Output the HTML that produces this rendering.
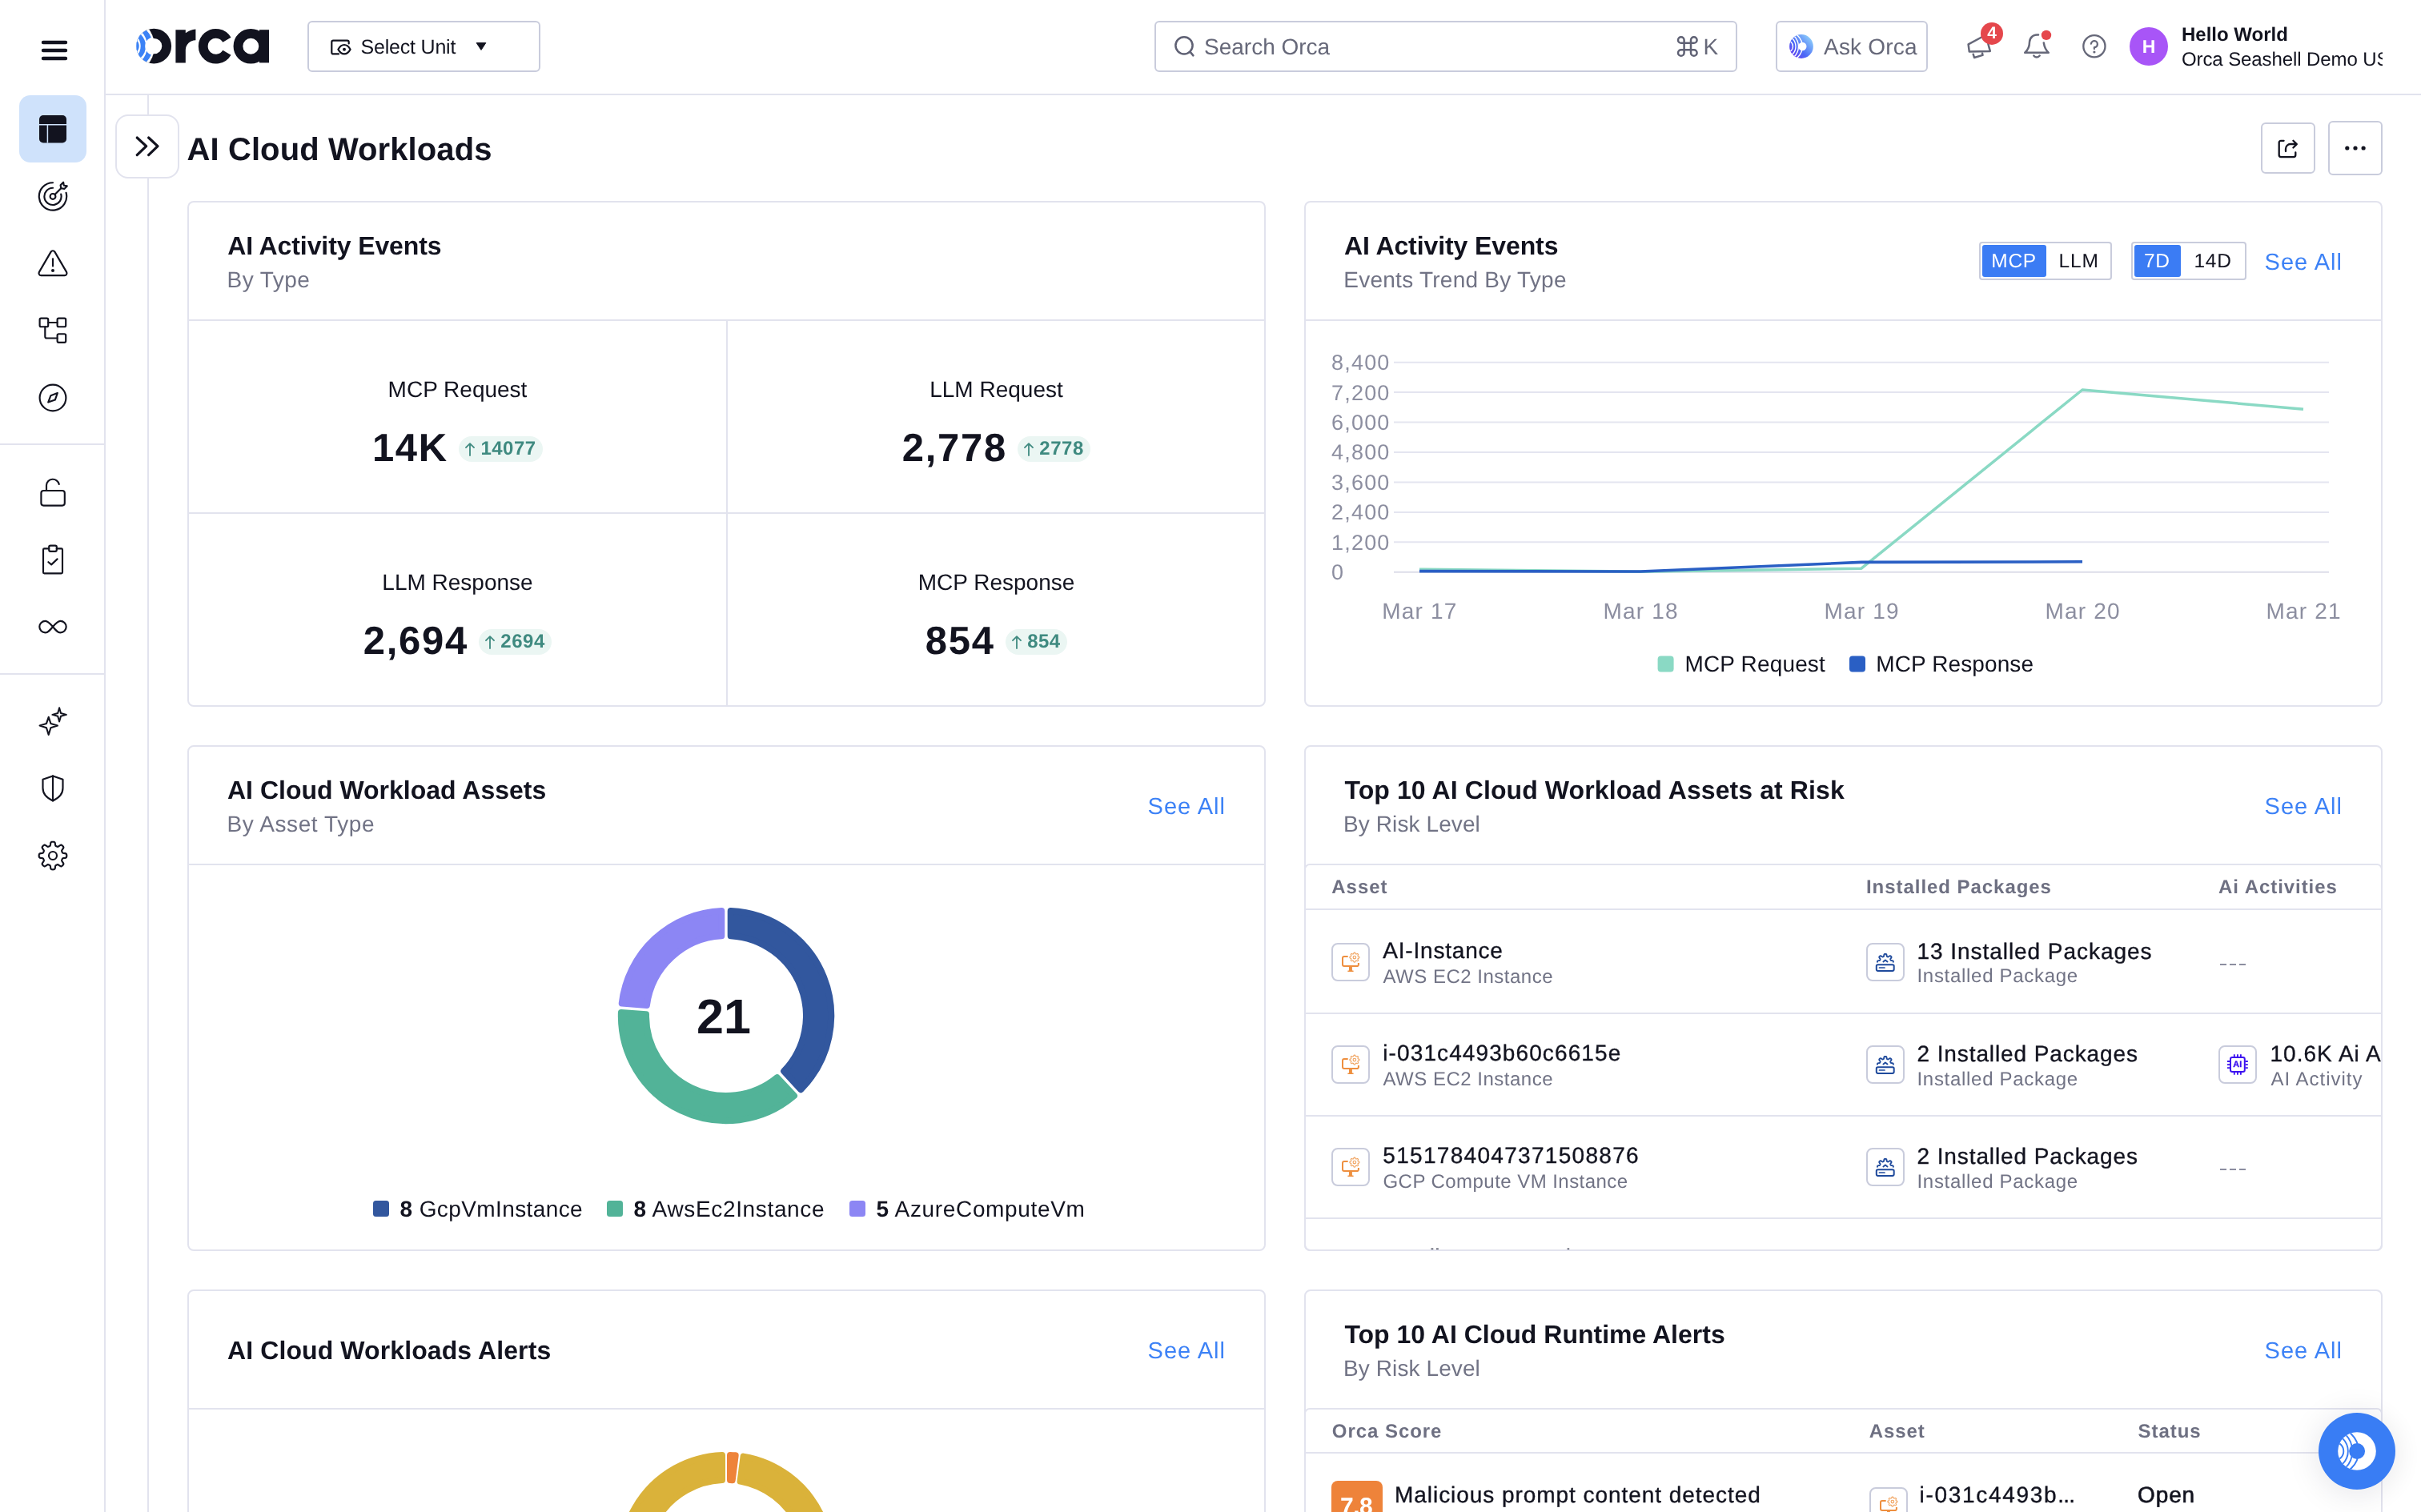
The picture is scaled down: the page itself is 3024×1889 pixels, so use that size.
<!DOCTYPE html>
<html lang="en">
<head>
<meta charset="utf-8">
<title>AI Cloud Workloads</title>
<style>
*{box-sizing:border-box;margin:0;padding:0}
html,body{width:3024px;height:1889px;overflow:hidden;background:#fff}
body{font-family:"Liberation Sans",sans-serif;color:#12131f;position:relative;-webkit-font-smoothing:antialiased;text-rendering:geometricPrecision}
#root{position:absolute;left:0;top:0;width:3024px;height:1889px;overflow:hidden;will-change:transform;opacity:0.9999}
.a{position:absolute}
.t{position:absolute;white-space:nowrap;line-height:1}
.b{font-weight:700}
.g{color:#6e7082}
.blue{color:#3b7cf4}
/* sidebar */
#side{left:0;top:0;width:132px;height:1889px;border-right:2px solid #e2e3ee;background:#fff}
.sdiv{left:0;width:130px;height:2px;background:#e2e3ee}
.ico{position:absolute;left:46px;width:40px;height:40px}
.ico svg{width:40px;height:40px;display:block}
/* header */
#hdr{left:132px;top:0;width:2892px;height:119px;border-bottom:2px solid #e2e3ee;background:#fff}
.box{position:absolute;border:2px solid #c9ccdc;border-radius:6px;background:#fff}
/* cards */
.card{position:absolute;width:1347px;height:632px;border:2px solid #e2e3ee;border-radius:8px;background:#fff;overflow:hidden}
.chd{position:absolute;left:0;top:0;right:0;height:148px;border-bottom:2px solid #e2e3ee}
.clip{position:absolute;left:0;top:0;right:0;bottom:0;overflow:hidden;border-radius:6px}
.tbl{position:absolute;left:-2px;right:-2px;top:146px;bottom:-2px;border:2px solid #e2e3ee;border-radius:7px}
.ttl{left:48px;font-size:31px;font-weight:700;letter-spacing:-0.2px}
.sub{left:48px;font-size:27px;color:#6e7082}
.see{font-size:29px;color:#3b7cf4;letter-spacing:1px}
.hl{position:absolute;height:2px;background:#e2e3ee}
.vl{position:absolute;width:2px;background:#e2e3ee}
</style>
</head>
<body>
<div id="root">
<!-- vertical guide line -->
<div class="a" style="left:184px;top:118px;width:2px;height:1780px;background:#e2e3ee"></div>

<!-- SIDEBAR -->
<div id="side" class="a">
<div class="a" style="left:24px;top:119px;width:84px;height:84px;border-radius:14px;background:#cfe2fb"></div>
<div class="a sdiv" style="top:554px"></div>
<div class="a sdiv" style="top:841px"></div>
<svg class="a" style="left:0;top:0" width="130" height="1889" viewBox="0 0 130 1889" fill="none" stroke="#12131f" stroke-width="2.15" stroke-linecap="round" stroke-linejoin="round">
<!-- hamburger -->
<g stroke-width="4.4"><path d="M54 53H82M54 63H82M54 73H82"/></g>
<!-- layout filled -->
<rect x="49" y="144" width="34" height="34.5" rx="5" fill="#12131f" stroke="none"/>
<path d="M49 155.8H83M59.4 155.8V178.5" stroke="#cfe2fb" stroke-width="1.5" stroke-linecap="butt"/>
<!-- target -->
<path d="M66 228.2A17.2 17.2 0 1 0 82.6 240.9"/>
<path d="M66 234.8A10.6 10.6 0 1 0 76.2 242.6"/>
<circle cx="66" cy="245.4" r="3.4"/>
<path d="M68.5 243L76.5 235"/>
<path d="M76.3 235.2L75.6 231.2L79.1 227.7L79.8 231.7L83.8 232.4L80.3 235.9Z"/>
<!-- warning -->
<path d="M63.6 314.6L48.9 339.9A2.8 2.8 0 0 0 51.3 344.1H80.7A2.8 2.8 0 0 0 83.1 339.9L68.4 314.6A2.8 2.8 0 0 0 63.6 314.6Z"/>
<path d="M66 323.2V332.4"/>
<circle cx="66" cy="338" r="2" fill="#12131f" stroke="none"/>
<!-- tree -->
<rect x="49.6" y="397.6" width="10.6" height="10.6" rx="1.8"/>
<rect x="71.6" y="397.6" width="10.6" height="10.6" rx="1.8"/>
<rect x="71.6" y="417.2" width="10.6" height="10.6" rx="1.8"/>
<path d="M60.2 403H71.6M56.3 408.2V420.5A2 2 0 0 0 58.3 422.5H71.6"/>
<!-- compass -->
<circle cx="66" cy="497" r="16.4"/>
<path d="M71.8 491L63.4 494.2L60.2 502.6L68.8 499.6Z"/>
<!-- lock open -->
<rect x="51.4" y="613" width="29.4" height="18.6" rx="3"/>
<path d="M58 613V606.2A8 8 0 0 1 73.8 605"/>
<!-- clipboard -->
<path d="M61.2 685.4H55.4A1.4 1.4 0 0 0 54 686.8V715A1.4 1.4 0 0 0 55.4 716.4H76.6A1.4 1.4 0 0 0 78 715V686.8A1.4 1.4 0 0 0 76.6 685.4H70.8"/>
<rect x="61.2" y="681.6" width="9.6" height="7.2" rx="1.8"/>
<path d="M60.4 702.2L64.2 705.4L71.6 698.4"/>
<!-- infinity -->
<path d="M66 783C62.4 778.6 60 775.8 56.6 775.8A7.3 7.3 0 1 0 56.6 790.4C60 790.4 62.4 787.4 66 783C69.6 778.6 72 775.8 75.4 775.8A7.3 7.3 0 1 1 75.4 790.4C72 790.4 69.6 787.4 66 783Z"/>
<!-- sparkles -->
<path d="M60.7 895.8L63.4 903.9L71.9 906.6L63.4 909.3L60.7 917.9L58 909.3L49.6 906.6L58 903.9Z" stroke-width="2.1"/>
<path d="M74.1 884.2L76 891L82.9 892.9L76 894.8L74.1 901.6L72.2 894.8L65.4 892.9L72.2 891Z" stroke-width="2"/>
<!-- shield half -->
<path d="M66 969.4L78.5 973.8V984.6C78.5 992.8 71.5 998 66 1000.4C60.5 998 53.5 992.8 53.5 984.6V973.8Z"/>
<path d="M66 969.4V1000.4"/>
<!-- gear -->
<path d="M66.0 1051.7 L66.5 1051.7 L67.1 1051.8 L67.6 1051.9 L68.1 1052.2 L68.6 1052.8 L68.9 1054.0 L69.0 1055.4 L69.3 1056.3 L69.5 1056.8 L69.9 1057.0 L70.2 1057.2 L70.6 1057.4 L71.0 1057.5 L71.3 1057.7 L71.7 1057.8 L72.1 1057.9 L72.7 1057.7 L73.5 1057.2 L74.6 1056.4 L75.6 1055.8 L76.4 1055.6 L76.9 1055.8 L77.4 1056.1 L77.8 1056.4 L78.2 1056.8 L78.6 1057.2 L78.9 1057.6 L79.2 1058.1 L79.4 1058.6 L79.2 1059.4 L78.6 1060.4 L77.8 1061.5 L77.3 1062.3 L77.1 1062.9 L77.2 1063.3 L77.3 1063.7 L77.5 1064.0 L77.6 1064.4 L77.8 1064.8 L78.0 1065.1 L78.2 1065.5 L78.7 1065.7 L79.6 1066.0 L81.0 1066.1 L82.2 1066.4 L82.8 1066.9 L83.1 1067.4 L83.2 1067.9 L83.3 1068.5 L83.3 1069.0 L83.3 1069.5 L83.2 1070.1 L83.1 1070.6 L82.8 1071.1 L82.2 1071.6 L81.0 1071.9 L79.6 1072.0 L78.7 1072.3 L78.2 1072.5 L78.0 1072.9 L77.8 1073.2 L77.6 1073.6 L77.5 1074.0 L77.3 1074.3 L77.2 1074.7 L77.1 1075.1 L77.3 1075.7 L77.8 1076.5 L78.6 1077.6 L79.2 1078.6 L79.4 1079.4 L79.2 1079.9 L78.9 1080.4 L78.6 1080.8 L78.2 1081.2 L77.8 1081.6 L77.4 1081.9 L76.9 1082.2 L76.4 1082.4 L75.6 1082.2 L74.6 1081.6 L73.5 1080.8 L72.7 1080.3 L72.1 1080.1 L71.7 1080.2 L71.3 1080.3 L71.0 1080.5 L70.6 1080.6 L70.2 1080.8 L69.9 1081.0 L69.5 1081.2 L69.3 1081.7 L69.0 1082.6 L68.9 1084.0 L68.6 1085.2 L68.1 1085.8 L67.6 1086.1 L67.1 1086.2 L66.5 1086.3 L66.0 1086.3 L65.5 1086.3 L64.9 1086.2 L64.4 1086.1 L63.9 1085.8 L63.4 1085.2 L63.1 1084.0 L63.0 1082.6 L62.7 1081.7 L62.5 1081.2 L62.1 1081.0 L61.8 1080.8 L61.4 1080.6 L61.0 1080.5 L60.7 1080.3 L60.3 1080.2 L59.9 1080.1 L59.3 1080.3 L58.5 1080.8 L57.4 1081.6 L56.4 1082.2 L55.6 1082.4 L55.1 1082.2 L54.6 1081.9 L54.2 1081.6 L53.8 1081.2 L53.4 1080.8 L53.1 1080.4 L52.8 1079.9 L52.6 1079.4 L52.8 1078.6 L53.4 1077.6 L54.2 1076.5 L54.7 1075.7 L54.9 1075.1 L54.8 1074.7 L54.7 1074.3 L54.5 1074.0 L54.4 1073.6 L54.2 1073.2 L54.0 1072.9 L53.8 1072.5 L53.3 1072.3 L52.4 1072.0 L51.0 1071.9 L49.8 1071.6 L49.2 1071.1 L48.9 1070.6 L48.8 1070.1 L48.7 1069.5 L48.7 1069.0 L48.7 1068.5 L48.8 1067.9 L48.9 1067.4 L49.2 1066.9 L49.8 1066.4 L51.0 1066.1 L52.4 1066.0 L53.3 1065.7 L53.8 1065.5 L54.0 1065.1 L54.2 1064.8 L54.4 1064.4 L54.5 1064.0 L54.7 1063.7 L54.8 1063.3 L54.9 1062.9 L54.7 1062.3 L54.2 1061.5 L53.4 1060.4 L52.8 1059.4 L52.6 1058.6 L52.8 1058.1 L53.1 1057.6 L53.4 1057.2 L53.8 1056.8 L54.2 1056.4 L54.6 1056.1 L55.1 1055.8 L55.6 1055.6 L56.4 1055.8 L57.4 1056.4 L58.5 1057.2 L59.3 1057.7 L59.9 1057.9 L60.3 1057.8 L60.7 1057.7 L61.0 1057.5 L61.4 1057.4 L61.8 1057.2 L62.1 1057.0 L62.5 1056.8 L62.7 1056.3 L63.0 1055.4 L63.1 1054.0 L63.4 1052.8 L63.9 1052.2 L64.4 1051.9 L64.9 1051.8 L65.5 1051.7Z"/>
<circle cx="66" cy="1069" r="5"/>
</svg>
</div>

<!-- HEADER -->
<div id="hdr" class="a">
<!-- logo -->
<svg class="a" style="left:28px;top:25px" width="190" height="70" viewBox="160 25 190 70">
<defs>
<clipPath id="oc"><circle cx="192.2" cy="57.6" r="21.9"/></clipPath>
<clipPath id="ob"><circle cx="157.4" cy="57.6" r="35.6"/></clipPath>
</defs>
<g clip-path="url(#oc)">
<rect x="160" y="25" width="70" height="70" fill="#12131f"/>
<g clip-path="url(#ob)">
<rect x="160" y="25" width="70" height="70" fill="#fff"/>
<circle cx="162.4" cy="57.6" r="28.6" fill="#3b82f6"/>
<circle cx="157.7" cy="57.6" r="26.2" fill="#fff"/>
<circle cx="162.3" cy="57.6" r="19.8" fill="#3b82f6"/>
<circle cx="157.7" cy="57.6" r="18" fill="#fff"/>
<circle cx="163" cy="57.6" r="10.7" fill="#3b82f6"/>
<circle cx="192.6" cy="57.6" r="11.4" fill="#fff"/>
</g>
<circle cx="192.6" cy="57.6" r="9.7" fill="#fff"/>
</g>
<path d="M219.4 37.2H231.8V41.2A25.6 25.6 0 0 1 244.4 36.4V50.2A12.4 12.4 0 0 0 231.8 62.6V78.4H219.4Z" fill="#12131f"/>
<path d="M283.4 49.8A15.9 15.9 0 1 0 283.4 65.7" fill="none" stroke="#12131f" stroke-width="11.8"/>
<circle cx="313.3" cy="57.75" r="15.85" fill="none" stroke="#12131f" stroke-width="11.8"/>
<rect x="324" y="37.2" width="12" height="41.2" fill="#12131f"/>
</svg>
<!-- select unit -->
<div class="box" style="left:252px;top:26px;width:291px;height:64px"></div>
<svg class="a" style="left:278px;top:46px" width="32" height="28" viewBox="410 46 32 28" fill="none" stroke="#12131f" stroke-width="2.2" stroke-linecap="round" stroke-linejoin="round">
<path d="M423 67.4H416.3A2 2 0 0 1 414.3 65.4V52.7A2 2 0 0 1 416.3 50.7H433.7A2 2 0 0 1 435.7 52.7V54.5"/>
<path d="M422.4 61.7C424.4 58 427 56 430 56S435.600 58 437.6 61.700C435.6 65.400 433 67.400 430 67.400S424.4 65.400 422.4 61.700Z"/>
<circle cx="430" cy="61.7" r="2" fill="#12131f" stroke="none"/>
</svg>
<div class="t" id="t_sel" style="left:318.5px;top:46.5px;font-size:25px;letter-spacing:-0.2px">Select Unit</div>
<svg class="a" style="left:462px;top:53px" width="14" height="10" viewBox="0 0 14 10"><path d="M1.200 0.600H12.800L7 9.400Z" fill="#12131f" stroke="#12131f" stroke-width="1" stroke-linejoin="round"/></svg>
<!-- search -->
<div class="box" style="left:1310px;top:26px;width:728px;height:64px"></div>
<svg class="a" style="left:1332px;top:42px" width="32" height="32" viewBox="1464 42 32 32" fill="none" stroke="#5f6174" stroke-width="2.500" stroke-linecap="round"><circle cx="1479" cy="56.8" r="10.6"/><path d="M1486.4 64.600L1490.4 69.400"/></svg>
<div class="t" id="t_search" style="left:1372px;top:45px;font-size:28px;color:#666879">Search Orca</div>
<svg class="a" style="left:1960px;top:43px" width="30" height="30" viewBox="2092 43 30 30" fill="none" stroke="#5f6174" stroke-width="2.500"><path d="M2103.600 53.800V50A3.800 3.800 0 1 0 2099.800 53.800H2115.800A3.800 3.800 0 1 0 2112 50V66A3.800 3.800 0 1 0 2115.800 62.200H2099.800A3.800 3.800 0 1 0 2103.600 66Z"/></svg>
<div class="t" id="t_k" style="left:1995.5px;top:44.5px;font-size:28px;color:#666879">K</div>
<!-- ask orca -->
<div class="box" style="left:2086px;top:26px;width:190px;height:64px"></div>
<svg class="a" style="left:2100px;top:40px" width="36" height="36" viewBox="2232 40 36 36" fill="none">
<defs><linearGradient id="ag" x1="0.050" y1="0.950" x2="0.950" y2="0.150"><stop offset="0" stop-color="#6c3af0"/><stop offset="0.420" stop-color="#4a68f6"/><stop offset="1" stop-color="#90d2fb"/></linearGradient>
<clipPath id="ac"><circle cx="2250" cy="58" r="14.900"/></clipPath></defs>
<circle cx="2250" cy="58" r="14.900" fill="url(#ag)"/>
<g clip-path="url(#ac)" stroke="#fff" stroke-width="1.400"><circle cx="2232.200" cy="58" r="7.300"/><circle cx="2229.200" cy="58" r="13.800"/><circle cx="2227.900" cy="58" r="18.500"/><circle cx="2232.900" cy="58" r="18.400"/></g>
<circle cx="2251.300" cy="58" r="5.200" fill="#fff"/>
</svg>
<div class="t" id="t_ask" style="left:2146px;top:45px;font-size:28px;letter-spacing:0.2px;color:#666879">Ask Orca</div>
<!-- megaphone -->
<svg class="a" style="left:2318px;top:24px" width="60" height="60" viewBox="2450 24 60 60" fill="none" stroke="#666879" stroke-width="2.500" stroke-linecap="round" stroke-linejoin="round">
<path d="M2476 46L2458.600 55.300L2459.800 64.600L2485.800 63.900L2483.300 54.700"/>
<path d="M2464.700 67.700L2466 72L2476.500 68.900L2476 66.400"/>
<circle cx="2488" cy="41.900" r="14" fill="#e5474c" stroke="none"/>
</svg>
<div class="t b" style="left:2349px;top:31px;width:14px;text-align:center;font-size:21px;color:#fff">4</div>
<!-- bell -->
<svg class="a" style="left:2390px;top:30px" width="50" height="50" viewBox="2522 30 50 50" fill="none" stroke="#666879" stroke-width="2.500" stroke-linecap="round" stroke-linejoin="round">
<path d="M2546 43.600A9.500 9.500 0 0 0 2535 52.500C2535 58 2533.600 62 2529.300 65.800H2558.800C2555.800 63 2553.600 59 2552.800 53.600"/>
<path d="M2540.400 69.600C2542.200 72.200 2545.800 72.200 2547.600 69.600"/>
<circle cx="2556" cy="43.900" r="6.200" fill="#e5474c" stroke="none"/>
</svg>
<!-- help -->
<svg class="a" style="left:2464px;top:38px" width="40" height="40" viewBox="2596 38 40 40" fill="none" stroke="#666879" stroke-width="2.300" stroke-linecap="round" stroke-linejoin="round">
<circle cx="2615.900" cy="57.800" r="13.600"/>
<path d="M2611.900 54.600A4 4 0 1 1 2615.900 59.200V61"/>
<circle cx="2615.900" cy="65" r="1.600" fill="#666879" stroke="none"/>
</svg>
<!-- avatar -->
<div class="a" style="left:2528px;top:34px;width:48px;height:48px;border-radius:24px;background:#a855f7"></div>
<div class="t b" style="left:2528px;top:46.500px;width:48px;text-align:center;font-size:23px;color:#fff">H</div>
<div class="t b" id="t_hello" style="left:2593px;top:31.700px;font-size:24px">Hello World</div>
<div class="t" id="t_org" style="left:2593px;top:63px;font-size:24px;width:251px;overflow:hidden;letter-spacing:-0.100px">Orca Seashell Demo US-East</div>
</div>

<!-- PAGE TITLE -->
<div id="pt">
<div class="a" style="left:144px;top:143px;width:80px;height:80px;border:2px solid #e2e3ee;border-radius:16px;background:#fff"></div>
<svg class="a" style="left:160px;top:160px" width="48" height="46" viewBox="160 160 48 46" fill="none" stroke="#12131f" stroke-width="3.200" stroke-linecap="round" stroke-linejoin="round"><path d="M171.200 172L182.700 182.700L171.200 193.600M185.600 172L197 182.700L185.600 193.600"/></svg>
<div class="t b" id="t_title" style="left:233.5px;top:166.5px;font-size:40px;letter-spacing:0.1px">AI Cloud Workloads</div>
<div class="box" style="left:2824px;top:153px;width:68px;height:64px"></div>
<svg class="a" style="left:2838px;top:166px" width="40" height="40" viewBox="2838 166 40 40" fill="none" stroke="#12131f" stroke-width="2.300" stroke-linecap="round" stroke-linejoin="round">
<path d="M2852.600 175.800H2849A2.300 2.300 0 0 0 2846.700 178.100V193.800A2.300 2.300 0 0 0 2849 196.100H2865A2.300 2.300 0 0 0 2867.300 193.800V190.400"/>
<path d="M2855 189V186A6 6 0 0 1 2861 180H2868.600M2864.400 175.800L2868.800 180.100L2864.400 184.500"/>
</svg>
<div class="box" style="left:2908px;top:151px;width:68px;height:68px"></div>
<svg class="a" style="left:2922px;top:175px" width="40" height="20" viewBox="2922 175 40 20" fill="#12131f"><circle cx="2931.800" cy="185" r="2.600"/><circle cx="2942" cy="185" r="2.600"/><circle cx="2952.100" cy="185" r="2.600"/></svg>
</div>

<!-- CARDS -->
<div class="card" id="c1" style="left:234px;top:251px">
<div class="chd"></div>
<div class="t b" id="t_c1t" style="left:48.2px;top:37.9px;font-size:32px;letter-spacing:-0.1px;">AI Activity Events</div>
<div class="t " id="t_c1s" style="left:47.5px;top:82.7px;font-size:28px;color:#717385;letter-spacing:0.45px;">By Type</div>
<div class="vl" style="left:671px;top:148px;height:482px"></div>
<div class="hl" style="left:0;top:387px;width:1344px"></div>
<div class="t " style="left:-64.5px;top:219.5px;width:800px;text-align:center;font-size:28px;"><span id="t_l1">MCP Request</span></div><div class="a" style="left:-64.5px;top:283.0px;width:800px;display:flex;justify-content:center;align-items:flex-start"><span id="t_n1" class="b" style="font-size:49px;line-height:1;white-space:nowrap;letter-spacing:1.7px">14K</span><span id="p_1" style="margin-left:13.5px;margin-top:9px;height:32px;border-radius:16px;background:#ebf6f3;padding:0 8.500px 0 8px;display:inline-flex;align-items:center;color:#3f8a80;font-weight:700;font-size:24px;letter-spacing:0.5px;line-height:1;white-space:nowrap"><svg width="12" height="17" viewBox="0 0 12 17" fill="none" stroke="#3f8a80" stroke-width="1.8" stroke-linecap="round" stroke-linejoin="round" style="margin-right:7px;flex:none"><path d="M6 16V1.200M1 6.200L6 1.200L11 6.200"/></svg><span id="t_d1">14077</span></span></div>
<div class="t " style="left:608.5px;top:219.5px;width:800px;text-align:center;font-size:28px;"><span id="t_l2">LLM Request</span></div><div class="a" style="left:608.5px;top:283.0px;width:800px;display:flex;justify-content:center;align-items:flex-start"><span id="t_n2" class="b" style="font-size:49px;line-height:1;white-space:nowrap;letter-spacing:1.7px">2,778</span><span id="p_2" style="margin-left:13.5px;margin-top:9px;height:32px;border-radius:16px;background:#ebf6f3;padding:0 8.500px 0 8px;display:inline-flex;align-items:center;color:#3f8a80;font-weight:700;font-size:24px;letter-spacing:0.5px;line-height:1;white-space:nowrap"><svg width="12" height="17" viewBox="0 0 12 17" fill="none" stroke="#3f8a80" stroke-width="1.8" stroke-linecap="round" stroke-linejoin="round" style="margin-right:7px;flex:none"><path d="M6 16V1.200M1 6.200L6 1.200L11 6.200"/></svg><span id="t_d2">2778</span></span></div>
<div class="t " style="left:-64.5px;top:460.7px;width:800px;text-align:center;font-size:28px;"><span id="t_l3">LLM Response</span></div><div class="a" style="left:-64.5px;top:524.2px;width:800px;display:flex;justify-content:center;align-items:flex-start"><span id="t_n3" class="b" style="font-size:49px;line-height:1;white-space:nowrap;letter-spacing:1.7px">2,694</span><span id="p_3" style="margin-left:13.5px;margin-top:9px;height:32px;border-radius:16px;background:#ebf6f3;padding:0 8.500px 0 8px;display:inline-flex;align-items:center;color:#3f8a80;font-weight:700;font-size:24px;letter-spacing:0.5px;line-height:1;white-space:nowrap"><svg width="12" height="17" viewBox="0 0 12 17" fill="none" stroke="#3f8a80" stroke-width="1.8" stroke-linecap="round" stroke-linejoin="round" style="margin-right:7px;flex:none"><path d="M6 16V1.200M1 6.200L6 1.200L11 6.200"/></svg><span id="t_d3">2694</span></span></div>
<div class="t " style="left:608.5px;top:460.7px;width:800px;text-align:center;font-size:28px;"><span id="t_l4">MCP Response</span></div><div class="a" style="left:608.5px;top:524.2px;width:800px;display:flex;justify-content:center;align-items:flex-start"><span id="t_n4" class="b" style="font-size:49px;line-height:1;white-space:nowrap;letter-spacing:1.7px">854</span><span id="p_4" style="margin-left:13.5px;margin-top:9px;height:32px;border-radius:16px;background:#ebf6f3;padding:0 8.500px 0 8px;display:inline-flex;align-items:center;color:#3f8a80;font-weight:700;font-size:24px;letter-spacing:0.5px;line-height:1;white-space:nowrap"><svg width="12" height="17" viewBox="0 0 12 17" fill="none" stroke="#3f8a80" stroke-width="1.8" stroke-linecap="round" stroke-linejoin="round" style="margin-right:7px;flex:none"><path d="M6 16V1.200M1 6.200L6 1.200L11 6.200"/></svg><span id="t_d4">854</span></span></div>
</div><!--c1-->
<div class="card" id="c2" style="left:1629px;top:251px">
<div class="chd"></div>
<div class="t b" id="t_c2t" style="left:48.0px;top:37.9px;font-size:32px;letter-spacing:-0.1px;">AI Activity Events</div>
<div class="t " id="t_c2s" style="left:47.3px;top:82.7px;font-size:28px;color:#717385;letter-spacing:0.25px;">Events Trend By Type</div>
<div class="box" style="left:841px;top:49px;width:166px;height:48px;border-radius:4px"></div>
<div class="a" style="left:845px;top:53px;width:80px;height:40px;border-radius:3px;background:#3b7cf4"></div>
<div class="t " id="t_mcp" style="left:856.3px;top:61.9px;font-size:24.5px;color:#fff;letter-spacing:0.7px;">MCP</div>
<div class="t " id="t_llm" style="left:940.5px;top:61.9px;font-size:24.5px;letter-spacing:0.9px;">LLM</div>
<div class="box" style="left:1031px;top:49px;width:144px;height:48px;border-radius:4px"></div>
<div class="a" style="left:1035px;top:53px;width:58px;height:40px;border-radius:3px;background:#3b7cf4"></div>
<div class="t " id="t_7d" style="left:1047.0px;top:61.9px;font-size:24.5px;color:#fff;letter-spacing:0.7px;">7D</div>
<div class="t " id="t_14d" style="left:1109.5px;top:61.9px;font-size:24.5px;letter-spacing:0.7px;">14D</div>
<div class="t " id="t_see2" style="left:1197.6px;top:61.0px;font-size:29px;color:#3d82f6;letter-spacing:1px;">See All</div>
<svg class="a" style="left:0;top:148px" width="1344" height="480" viewBox="1631 401 1344 480" fill="none"><path d="M1741 452.7H2909" stroke="#e4e5f0" stroke-width="2"/><path d="M1741 490.1H2909" stroke="#e4e5f0" stroke-width="2"/><path d="M1741 527.6H2909" stroke="#e4e5f0" stroke-width="2"/><path d="M1741 565.0H2909" stroke="#e4e5f0" stroke-width="2"/><path d="M1741 602.4H2909" stroke="#e4e5f0" stroke-width="2"/><path d="M1741 639.9H2909" stroke="#e4e5f0" stroke-width="2"/><path d="M1741 677.3H2909" stroke="#e4e5f0" stroke-width="2"/><path d="M1741 714.7H2909" stroke="#dcdde9" stroke-width="2"/><path d="M1773 711.2L2049 714.2L2325 710.2L2601 487L2877 511.2" stroke="#8ad9c4" stroke-width="3.5" stroke-linejoin="round"/><path d="M1773 713.6L2049 714L2325 702.4L2601 701.8" stroke="#2a5fc4" stroke-width="3.6" stroke-linejoin="round"/><rect x="2070.600" y="819.400" width="20" height="20" rx="4" fill="#8ad9c4"/><rect x="2310" y="819.400" width="20" height="20" rx="4" fill="#2a5fc4"/></svg>
<div class="t " id="t_y0" style="left:32.0px;top:187.1px;font-size:27px;color:#8c8ea0;letter-spacing:1.2px;">8,400</div>
<div class="t " id="t_y1" style="left:32.0px;top:224.6px;font-size:27px;color:#8c8ea0;letter-spacing:1.2px;">7,200</div>
<div class="t " id="t_y2" style="left:32.0px;top:262.0px;font-size:27px;color:#8c8ea0;letter-spacing:1.2px;">6,000</div>
<div class="t " id="t_y3" style="left:32.0px;top:299.4px;font-size:27px;color:#8c8ea0;letter-spacing:1.2px;">4,800</div>
<div class="t " id="t_y4" style="left:32.0px;top:336.9px;font-size:27px;color:#8c8ea0;letter-spacing:1.2px;">3,600</div>
<div class="t " id="t_y5" style="left:32.0px;top:374.3px;font-size:27px;color:#8c8ea0;letter-spacing:1.2px;">2,400</div>
<div class="t " id="t_y6" style="left:32.0px;top:411.7px;font-size:27px;color:#8c8ea0;letter-spacing:1.2px;">1,200</div>
<div class="t " id="t_y7" style="left:32.0px;top:449.2px;font-size:27px;color:#8c8ea0;letter-spacing:1.2px;">0</div>
<div class="t " style="left:-257.6px;top:497.3px;width:800px;text-align:center;font-size:28px;color:#8c8ea0;letter-spacing:1.2px;"><span id="t_x0">Mar 17</span></div>
<div class="t " style="left:18.6px;top:497.3px;width:800px;text-align:center;font-size:28px;color:#8c8ea0;letter-spacing:1.2px;"><span id="t_x1">Mar 18</span></div>
<div class="t " style="left:294.6px;top:497.3px;width:800px;text-align:center;font-size:28px;color:#8c8ea0;letter-spacing:1.2px;"><span id="t_x2">Mar 19</span></div>
<div class="t " style="left:570.6px;top:497.3px;width:800px;text-align:center;font-size:28px;color:#8c8ea0;letter-spacing:1.2px;"><span id="t_x3">Mar 20</span></div>
<div class="t " style="left:846.6px;top:497.3px;width:800px;text-align:center;font-size:28px;color:#8c8ea0;letter-spacing:1.2px;"><span id="t_x4">Mar 21</span></div>
<div class="t " id="t_lg1" style="left:473.5px;top:563.1px;font-size:28px;letter-spacing:0.15px;">MCP Request</div>
<div class="t " id="t_lg2" style="left:712.3px;top:563.1px;font-size:28px;letter-spacing:0.1px;">MCP Response</div>
</div><!--c2-->
<div class="card" id="c3" style="left:234px;top:931px">
<div class="chd"></div>
<div class="t b" id="t_c3t" style="left:48.0px;top:37.9px;font-size:32px;">AI Cloud Workload Assets</div>
<div class="t " id="t_c3s" style="left:47.5px;top:82.7px;font-size:28px;color:#717385;letter-spacing:0.6px;">By Asset Type</div>
<div class="t " id="t_see3" style="left:1197.6px;top:61.0px;font-size:29px;color:#3d82f6;letter-spacing:1px;">See All</div>
<svg class="a" style="left:520.9px;top:186.0999999999999px" width="300" height="300" viewBox="756.9 1119.1 300 300" stroke-width="8" stroke-linejoin="round"><path d="M912.6 1138.0A131.2 131.2 0 0 1 1000.2 1361.3L979.0 1338.4A100.0 100.0 0 0 0 912.6 1169.3Z" fill="#32579e" stroke="#32579e"/><path d="M991.9 1369.1A131.2 131.2 0 0 1 775.8 1265.0L806.9 1267.3A100.0 100.0 0 0 0 970.6 1346.2Z" fill="#52b398" stroke="#52b398"/><path d="M776.6 1253.6A131.2 131.2 0 0 1 901.2 1138.0L901.2 1169.3A100.0 100.0 0 0 0 807.8 1256.0Z" fill="#8c86f4" stroke="#8c86f4"/></svg>
<div class="t b" style="left:268.0px;top:306.9px;width:800px;text-align:center;font-size:61px;letter-spacing:0px;"><span id="t_21">21</span></div>
<div class="a" style="left:230px;top:566.5px;width:20px;height:20px;border-radius:3.500px;background:#32579e"></div>
<div class="a" style="left:521.6px;top:566.5px;width:20px;height:20px;border-radius:3.500px;background:#52b398"></div>
<div class="a" style="left:825px;top:566.5px;width:20px;height:20px;border-radius:3.500px;background:#8c86f4"></div>
<div class="t " id="t_g1" style="left:263.5px;top:563.6px;font-size:28px;letter-spacing:0.4px;"><b>8</b> GcpVmInstance</div>
<div class="t " id="t_g2" style="left:555.5px;top:563.6px;font-size:28px;letter-spacing:0.65px;"><b>8</b> AwsEc2Instance</div>
<div class="t " id="t_g3" style="left:858.5px;top:563.6px;font-size:28px;letter-spacing:0.65px;"><b>5</b> AzureComputeVm</div>
</div><!--c3-->
<div class="card" id="c4" style="left:1629px;top:931px;overflow:visible">
<div class="tbl"></div><div class="clip">
<div class="t b" id="t_c4t" style="left:48.4px;top:37.9px;font-size:32px;letter-spacing:0.1px;">Top 10 AI Cloud Workload Assets at Risk</div>
<div class="t " id="t_c4s" style="left:47.0px;top:82.7px;font-size:28px;color:#717385;letter-spacing:0.1px;">By Risk Level</div>
<div class="t " id="t_see4" style="left:1197.6px;top:61.0px;font-size:29px;color:#3d82f6;letter-spacing:1px;">See All</div>
<div class="t b" id="t_h1" style="left:32.3px;top:164.3px;font-size:24px;color:#6e7082;letter-spacing:0.95px;">Asset</div>
<div class="t b" id="t_h2" style="left:700.0px;top:164.3px;font-size:24px;color:#6e7082;letter-spacing:0.95px;">Installed Packages</div>
<div class="t b" id="t_h3" style="left:1140.0px;top:164.3px;font-size:24px;color:#6e7082;letter-spacing:0.95px;">Ai Activities</div>
<div class="hl" style="left:0;top:202.0px;width:1344px"></div>
<div class="hl" style="left:0;top:331.7px;width:1344px"></div>
<div class="hl" style="left:0;top:459.5px;width:1344px"></div>
<div class="hl" style="left:0;top:587.8px;width:1344px"></div>
<div class="a" style="left:32.0px;top:245.0px;width:48px;height:48px;border:2px solid #c9ccdc;border-radius:8px;background:#fff"></div>
<svg class="a" style="left:32.0px;top:245.0px" width="48" height="48" viewBox="0 0 48 48" fill="none" stroke="#ee8f3f" stroke-width="2" stroke-linejoin="round"><path d="M20.700 16.900H16A2 2 0 0 0 14 18.900V27.100A2 2 0 0 0 16 29.100H31.900A2 2 0 0 0 33.900 27.100V25"/><path d="M22 30H25.900V34.500H27A0.800 0.800 0 0 1 27 36.100H21A0.800 0.800 0 0 1 21 34.500H22Z" fill="#ee8f3f" stroke="none"/><path d="M28.90 12.10L29.29 12.13L29.66 12.31L29.92 12.95L30.11 13.60L30.35 13.82L30.62 13.94L30.90 14.05L31.23 14.07L31.82 13.73L32.46 13.46L32.84 13.60L33.14 13.86L33.40 14.16L33.54 14.54L33.27 15.18L32.93 15.77L32.95 16.10L33.06 16.38L33.18 16.65L33.40 16.89L34.05 17.08L34.69 17.34L34.87 17.71L34.90 18.10L34.87 18.49L34.69 18.86L34.05 19.12L33.40 19.31L33.18 19.55L33.06 19.82L32.95 20.10L32.93 20.43L33.27 21.02L33.54 21.66L33.40 22.04L33.14 22.34L32.84 22.60L32.46 22.74L31.82 22.47L31.23 22.13L30.90 22.15L30.62 22.26L30.35 22.38L30.11 22.60L29.92 23.25L29.66 23.89L29.29 24.07L28.90 24.10L28.51 24.07L28.14 23.89L27.88 23.25L27.69 22.60L27.45 22.38L27.18 22.26L26.90 22.15L26.57 22.13L25.98 22.47L25.34 22.74L24.96 22.60L24.66 22.34L24.40 22.04L24.26 21.66L24.53 21.02L24.87 20.43L24.85 20.10L24.74 19.82L24.62 19.55L24.40 19.31L23.75 19.12L23.11 18.86L22.93 18.49L22.90 18.10L22.93 17.71L23.11 17.34L23.75 17.08L24.40 16.89L24.62 16.65L24.74 16.38L24.85 16.10L24.87 15.77L24.53 15.18L24.26 14.54L24.40 14.16L24.66 13.86L24.96 13.60L25.34 13.46L25.98 13.73L26.57 14.07L26.90 14.05L27.18 13.94L27.45 13.82L27.69 13.60L27.88 12.95L28.14 12.31L28.51 12.13Z" stroke-width="1.100" stroke="#f0a05a"/><circle cx="28.900" cy="18.100" r="1.800" stroke-width="1.100" stroke="#f0a05a"/></svg>
<div class="t " id="t_r0n" style="left:96.3px;top:241.0px;font-size:28px;-webkit-text-stroke:0.35px;letter-spacing:0.8px;">AI-Instance</div>
<div class="t " id="t_r0s" style="left:96.5px;top:275.6px;font-size:24px;color:#717385;letter-spacing:0.5px;">AWS EC2 Instance</div>
<div class="a" style="left:700.0px;top:245.0px;width:48px;height:48px;border:2px solid #c9ccdc;border-radius:8px;background:#fff"></div>
<svg class="a" style="left:700.0px;top:245.0px" width="48" height="48" viewBox="0 0 48 48" fill="none" stroke="#1f4a9c" stroke-width="2" stroke-linecap="round" stroke-linejoin="round"><rect x="12.800" y="27.200" width="21.900" height="7.700" rx="1.800"/><path d="M16.500 31H23" stroke-width="1.700"/><path d="M13.95 23.80L13.97 23.41L14.04 23.02L14.23 22.65L14.69 22.34L15.56 22.14L16.44 22.01L16.91 21.83L17.14 21.60L17.28 21.36L17.39 21.10L17.49 20.84L17.57 20.57L17.57 20.25L17.36 19.79L16.83 19.08L16.35 18.32L16.25 17.77L16.38 17.38L16.60 17.05L16.86 16.76L17.15 16.50L17.48 16.28L17.87 16.15L18.42 16.25L19.18 16.73L19.89 17.26L20.35 17.47L20.67 17.47L20.94 17.39L21.20 17.29L21.46 17.18L21.70 17.04L21.93 16.81L22.11 16.34L22.24 15.46L22.44 14.59L22.75 14.13L23.12 13.94L23.51 13.87L23.90 13.85L24.29 13.87L24.68 13.94L25.05 14.13L25.36 14.59L25.56 15.46L25.69 16.34L25.87 16.81L26.10 17.04L26.34 17.18L26.60 17.29L26.86 17.39L27.13 17.47L27.45 17.47L27.91 17.26L28.62 16.73L29.38 16.25L29.93 16.15L30.32 16.28L30.65 16.50L30.94 16.76L31.20 17.05L31.42 17.38L31.55 17.77L31.45 18.32L30.97 19.08L30.44 19.79L30.23 20.25L30.23 20.57L30.31 20.84L30.41 21.10L30.52 21.36L30.66 21.60L30.89 21.83L31.36 22.01L32.24 22.14L33.11 22.34L33.57 22.65L33.76 23.02L33.83 23.41L33.85 23.80" stroke-width="1.900"/><path d="M21.400 23.500L23.900 21.500L26.500 23.500" stroke-width="1.900"/></svg>
<div class="t " id="t_r0p" style="left:763.5px;top:241.9px;font-size:28px;-webkit-text-stroke:0.35px;letter-spacing:0.95px;">13 Installed Packages</div>
<div class="t " id="t_r0q" style="left:763.5px;top:275.4px;font-size:24px;color:#717385;letter-spacing:0.7px;">Installed Package</div>
<svg class="a" style="left:1141px;top:269.8px" width="36" height="4" viewBox="0 0 36 4"><path d="M1 2H9M13 2H21M25 2H33" stroke="#8c8ea0" stroke-width="2"/></svg>
<div class="a" style="left:32.0px;top:373.2px;width:48px;height:48px;border:2px solid #c9ccdc;border-radius:8px;background:#fff"></div>
<svg class="a" style="left:32.0px;top:373.2px" width="48" height="48" viewBox="0 0 48 48" fill="none" stroke="#ee8f3f" stroke-width="2" stroke-linejoin="round"><path d="M20.700 16.900H16A2 2 0 0 0 14 18.900V27.100A2 2 0 0 0 16 29.100H31.900A2 2 0 0 0 33.900 27.100V25"/><path d="M22 30H25.900V34.500H27A0.800 0.800 0 0 1 27 36.100H21A0.800 0.800 0 0 1 21 34.500H22Z" fill="#ee8f3f" stroke="none"/><path d="M28.90 12.10L29.29 12.13L29.66 12.31L29.92 12.95L30.11 13.60L30.35 13.82L30.62 13.94L30.90 14.05L31.23 14.07L31.82 13.73L32.46 13.46L32.84 13.60L33.14 13.86L33.40 14.16L33.54 14.54L33.27 15.18L32.93 15.77L32.95 16.10L33.06 16.38L33.18 16.65L33.40 16.89L34.05 17.08L34.69 17.34L34.87 17.71L34.90 18.10L34.87 18.49L34.69 18.86L34.05 19.12L33.40 19.31L33.18 19.55L33.06 19.82L32.95 20.10L32.93 20.43L33.27 21.02L33.54 21.66L33.40 22.04L33.14 22.34L32.84 22.60L32.46 22.74L31.82 22.47L31.23 22.13L30.90 22.15L30.62 22.26L30.35 22.38L30.11 22.60L29.92 23.25L29.66 23.89L29.29 24.07L28.90 24.10L28.51 24.07L28.14 23.89L27.88 23.25L27.69 22.60L27.45 22.38L27.18 22.26L26.90 22.15L26.57 22.13L25.98 22.47L25.34 22.74L24.96 22.60L24.66 22.34L24.40 22.04L24.26 21.66L24.53 21.02L24.87 20.43L24.85 20.10L24.74 19.82L24.62 19.55L24.40 19.31L23.75 19.12L23.11 18.86L22.93 18.49L22.90 18.10L22.93 17.71L23.11 17.34L23.75 17.08L24.40 16.89L24.62 16.65L24.74 16.38L24.85 16.10L24.87 15.77L24.53 15.18L24.26 14.54L24.40 14.16L24.66 13.86L24.96 13.60L25.34 13.46L25.98 13.73L26.57 14.07L26.90 14.05L27.18 13.94L27.45 13.82L27.69 13.60L27.88 12.95L28.14 12.31L28.51 12.13Z" stroke-width="1.100" stroke="#f0a05a"/><circle cx="28.900" cy="18.100" r="1.800" stroke-width="1.100" stroke="#f0a05a"/></svg>
<div class="t " id="t_r1n" style="left:96.3px;top:369.2px;font-size:28px;-webkit-text-stroke:0.35px;letter-spacing:1.1px;">i-031c4493b60c6615e</div>
<div class="t " id="t_r1s" style="left:96.5px;top:403.8px;font-size:24px;color:#717385;letter-spacing:0.5px;">AWS EC2 Instance</div>
<div class="a" style="left:700.0px;top:373.2px;width:48px;height:48px;border:2px solid #c9ccdc;border-radius:8px;background:#fff"></div>
<svg class="a" style="left:700.0px;top:373.2px" width="48" height="48" viewBox="0 0 48 48" fill="none" stroke="#1f4a9c" stroke-width="2" stroke-linecap="round" stroke-linejoin="round"><rect x="12.800" y="27.200" width="21.900" height="7.700" rx="1.800"/><path d="M16.500 31H23" stroke-width="1.700"/><path d="M13.95 23.80L13.97 23.41L14.04 23.02L14.23 22.65L14.69 22.34L15.56 22.14L16.44 22.01L16.91 21.83L17.14 21.60L17.28 21.36L17.39 21.10L17.49 20.84L17.57 20.57L17.57 20.25L17.36 19.79L16.83 19.08L16.35 18.32L16.25 17.77L16.38 17.38L16.60 17.05L16.86 16.76L17.15 16.50L17.48 16.28L17.87 16.15L18.42 16.25L19.18 16.73L19.89 17.26L20.35 17.47L20.67 17.47L20.94 17.39L21.20 17.29L21.46 17.18L21.70 17.04L21.93 16.81L22.11 16.34L22.24 15.46L22.44 14.59L22.75 14.13L23.12 13.94L23.51 13.87L23.90 13.85L24.29 13.87L24.68 13.94L25.05 14.13L25.36 14.59L25.56 15.46L25.69 16.34L25.87 16.81L26.10 17.04L26.34 17.18L26.60 17.29L26.86 17.39L27.13 17.47L27.45 17.47L27.91 17.26L28.62 16.73L29.38 16.25L29.93 16.15L30.32 16.28L30.65 16.50L30.94 16.76L31.20 17.05L31.42 17.38L31.55 17.77L31.45 18.32L30.97 19.08L30.44 19.79L30.23 20.25L30.23 20.57L30.31 20.84L30.41 21.10L30.52 21.36L30.66 21.60L30.89 21.83L31.36 22.01L32.24 22.14L33.11 22.34L33.57 22.65L33.76 23.02L33.83 23.41L33.85 23.80" stroke-width="1.900"/><path d="M21.400 23.500L23.900 21.500L26.500 23.500" stroke-width="1.900"/></svg>
<div class="t " id="t_r1p" style="left:763.5px;top:370.1px;font-size:28px;-webkit-text-stroke:0.35px;letter-spacing:0.9px;">2 Installed Packages</div>
<div class="t " id="t_r1q" style="left:763.5px;top:403.6px;font-size:24px;color:#717385;letter-spacing:0.7px;">Installed Package</div>
<div class="a" style="left:1140.0px;top:373.2px;width:48px;height:48px;border:2px solid #c9ccdc;border-radius:8px;background:#fff"></div>
<svg class="a" style="left:1140.0px;top:373.2px" width="48" height="48" viewBox="0 0 48 48" fill="none" stroke="#3c12f0" stroke-width="2" stroke-linecap="butt"><rect x="15" y="15" width="17.800" height="18" rx="2.200"/><path d="M19.8 11.200V14.200M19.8 33.800V36.800M11 20.0H14.200M33.600 20.0H36.800" stroke-width="1.800"/><path d="M23.9 11.200V14.200M23.9 33.800V36.800M11 24.1H14.200M33.600 24.1H36.800" stroke-width="1.800"/><path d="M27.9 11.200V14.200M27.9 33.800V36.800M11 28.1H14.200M33.600 28.1H36.800" stroke-width="1.800"/></svg><div class="t b" style="left:1140.0px;top:392.1px;width:47.800px;text-align:center;font-size:10.800px;color:#3c12f0;letter-spacing:0.2px;-webkit-text-stroke:0.35px">AI</div>
<div class="t " id="t_r1a" style="left:1204.5px;top:370.1px;font-size:28px;-webkit-text-stroke:0.35px;letter-spacing:1px;">10.6K Ai Activities</div>
<div class="t " id="t_r1b" style="left:1205.5px;top:403.6px;font-size:24px;color:#717385;letter-spacing:1px;">AI Activity</div>
<div class="a" style="left:32.0px;top:501.4px;width:48px;height:48px;border:2px solid #c9ccdc;border-radius:8px;background:#fff"></div>
<svg class="a" style="left:32.0px;top:501.4px" width="48" height="48" viewBox="0 0 48 48" fill="none" stroke="#ee8f3f" stroke-width="2" stroke-linejoin="round"><path d="M20.700 16.900H16A2 2 0 0 0 14 18.900V27.100A2 2 0 0 0 16 29.100H31.900A2 2 0 0 0 33.900 27.100V25"/><path d="M22 30H25.900V34.500H27A0.800 0.800 0 0 1 27 36.100H21A0.800 0.800 0 0 1 21 34.500H22Z" fill="#ee8f3f" stroke="none"/><path d="M28.90 12.10L29.29 12.13L29.66 12.31L29.92 12.95L30.11 13.60L30.35 13.82L30.62 13.94L30.90 14.05L31.23 14.07L31.82 13.73L32.46 13.46L32.84 13.60L33.14 13.86L33.40 14.16L33.54 14.54L33.27 15.18L32.93 15.77L32.95 16.10L33.06 16.38L33.18 16.65L33.40 16.89L34.05 17.08L34.69 17.34L34.87 17.71L34.90 18.10L34.87 18.49L34.69 18.86L34.05 19.12L33.40 19.31L33.18 19.55L33.06 19.82L32.95 20.10L32.93 20.43L33.27 21.02L33.54 21.66L33.40 22.04L33.14 22.34L32.84 22.60L32.46 22.74L31.82 22.47L31.23 22.13L30.90 22.15L30.62 22.26L30.35 22.38L30.11 22.60L29.92 23.25L29.66 23.89L29.29 24.07L28.90 24.10L28.51 24.07L28.14 23.89L27.88 23.25L27.69 22.60L27.45 22.38L27.18 22.26L26.90 22.15L26.57 22.13L25.98 22.47L25.34 22.74L24.96 22.60L24.66 22.34L24.40 22.04L24.26 21.66L24.53 21.02L24.87 20.43L24.85 20.10L24.74 19.82L24.62 19.55L24.40 19.31L23.75 19.12L23.11 18.86L22.93 18.49L22.90 18.10L22.93 17.71L23.11 17.34L23.75 17.08L24.40 16.89L24.62 16.65L24.74 16.38L24.85 16.10L24.87 15.77L24.53 15.18L24.26 14.54L24.40 14.16L24.66 13.86L24.96 13.60L25.34 13.46L25.98 13.73L26.57 14.07L26.90 14.05L27.18 13.94L27.45 13.82L27.69 13.60L27.88 12.95L28.14 12.31L28.51 12.13Z" stroke-width="1.100" stroke="#f0a05a"/><circle cx="28.900" cy="18.100" r="1.800" stroke-width="1.100" stroke="#f0a05a"/></svg>
<div class="t " id="t_r2n" style="left:96.3px;top:497.4px;font-size:28px;-webkit-text-stroke:0.35px;letter-spacing:1.3px;">5151784047371508876</div>
<div class="t " id="t_r2s" style="left:96.5px;top:532.0px;font-size:24px;color:#717385;letter-spacing:0.45px;">GCP Compute VM Instance</div>
<div class="a" style="left:700.0px;top:501.4px;width:48px;height:48px;border:2px solid #c9ccdc;border-radius:8px;background:#fff"></div>
<svg class="a" style="left:700.0px;top:501.4px" width="48" height="48" viewBox="0 0 48 48" fill="none" stroke="#1f4a9c" stroke-width="2" stroke-linecap="round" stroke-linejoin="round"><rect x="12.800" y="27.200" width="21.900" height="7.700" rx="1.800"/><path d="M16.500 31H23" stroke-width="1.700"/><path d="M13.95 23.80L13.97 23.41L14.04 23.02L14.23 22.65L14.69 22.34L15.56 22.14L16.44 22.01L16.91 21.83L17.14 21.60L17.28 21.36L17.39 21.10L17.49 20.84L17.57 20.57L17.57 20.25L17.36 19.79L16.83 19.08L16.35 18.32L16.25 17.77L16.38 17.38L16.60 17.05L16.86 16.76L17.15 16.50L17.48 16.28L17.87 16.15L18.42 16.25L19.18 16.73L19.89 17.26L20.35 17.47L20.67 17.47L20.94 17.39L21.20 17.29L21.46 17.18L21.70 17.04L21.93 16.81L22.11 16.34L22.24 15.46L22.44 14.59L22.75 14.13L23.12 13.94L23.51 13.87L23.90 13.85L24.29 13.87L24.68 13.94L25.05 14.13L25.36 14.59L25.56 15.46L25.69 16.34L25.87 16.81L26.10 17.04L26.34 17.18L26.60 17.29L26.86 17.39L27.13 17.47L27.45 17.47L27.91 17.26L28.62 16.73L29.38 16.25L29.93 16.15L30.32 16.28L30.65 16.50L30.94 16.76L31.20 17.05L31.42 17.38L31.55 17.77L31.45 18.32L30.97 19.08L30.44 19.79L30.23 20.25L30.23 20.57L30.31 20.84L30.41 21.10L30.52 21.36L30.66 21.60L30.89 21.83L31.36 22.01L32.24 22.14L33.11 22.34L33.57 22.65L33.76 23.02L33.83 23.41L33.85 23.80" stroke-width="1.900"/><path d="M21.400 23.500L23.900 21.500L26.500 23.500" stroke-width="1.900"/></svg>
<div class="t " id="t_r2p" style="left:763.5px;top:498.3px;font-size:28px;-webkit-text-stroke:0.35px;letter-spacing:0.9px;">2 Installed Packages</div>
<div class="t " id="t_r2q" style="left:763.5px;top:531.8px;font-size:24px;color:#717385;letter-spacing:0.7px;">Installed Package</div>
<svg class="a" style="left:1141px;top:526.2px" width="36" height="4" viewBox="0 0 36 4"><path d="M1 2H9M13 2H21M25 2H33" stroke="#8c8ea0" stroke-width="2"/></svg>
<svg class="a" style="left:149px;top:625px" width="200" height="4" viewBox="1780 1558 200 4"><path d="M1787.500 1560.300H1790.300M1794 1560.300H1796.800M1957.600 1560.300H1960.200" stroke="#4a4c5c" stroke-width="1.400"/></svg>
</div>
</div><!--c4-->
<div class="card" id="c5" style="left:234px;top:1611px">
<div class="chd"></div>
<div class="t b" id="t_c5t" style="left:48.0px;top:57.9px;font-size:32px;letter-spacing:0.1px;">AI Cloud Workloads Alerts</div>
<div class="t " id="t_see5" style="left:1197.6px;top:61.0px;font-size:29px;color:#3d82f6;letter-spacing:1px;">See All</div>
<svg class="a" style="left:520.9px;top:186.29999999999995px" width="300" height="150" viewBox="756.9 1799.3 300 150" stroke-width="8" stroke-linejoin="round"><path d="M911.9 1818.2A131.2 131.2 0 0 1 918.6 1818.6L914.6 1849.6A100.0 100.0 0 0 0 911.9 1849.4Z" fill="#ee833a" stroke="#ee833a"/><path d="M928.5 1819.9A131.2 131.2 0 1 1 901.9 1818.2L901.9 1849.4A100.0 100.0 0 1 0 924.5 1850.9Z" fill="#dab23a" stroke="#dab23a"/></svg>
</div><!--c5-->
<div class="card" id="c6" style="left:1629px;top:1611px;overflow:visible">
<div class="tbl"></div><div class="clip">
<div class="t b" id="t_c6t" style="left:48.4px;top:37.9px;font-size:32px;">Top 10 AI Cloud Runtime Alerts</div>
<div class="t " id="t_c6s" style="left:47.0px;top:82.7px;font-size:28px;color:#717385;letter-spacing:0.1px;">By Risk Level</div>
<div class="t " id="t_see6" style="left:1197.6px;top:61.0px;font-size:29px;color:#3d82f6;letter-spacing:1px;">See All</div>
<div class="t b" id="t_k1" style="left:32.8px;top:164.3px;font-size:24px;color:#6e7082;letter-spacing:0.95px;">Orca Score</div>
<div class="t b" id="t_k2" style="left:703.7px;top:164.3px;font-size:24px;color:#6e7082;letter-spacing:0.95px;">Asset</div>
<div class="t b" id="t_k3" style="left:1039.6px;top:164.3px;font-size:24px;color:#6e7082;letter-spacing:0.95px;">Status</div>
<div class="hl" style="left:0;top:201.3px;width:1344px"></div>
<div class="a" style="left:32.2px;top:237px;width:64px;height:64px;border-radius:8px;background:#ee833a"></div>
<div class="t b" id="t_78" style="left:43.0px;top:254.6px;font-size:30px;color:#fff;letter-spacing:-0.500px;">7.8</div>
<div class="t " id="t_mal" style="left:111.0px;top:240.8px;font-size:28px;-webkit-text-stroke:0.35px;letter-spacing:0.95px;">Malicious prompt content detected</div>
<div class="a" style="left:704px;top:245px;width:48px;height:48px;border:2px solid #c9ccdc;border-radius:8px;background:#fff"></div>
<svg class="a" style="left:704.0px;top:245.0px" width="48" height="48" viewBox="0 0 48 48" fill="none" stroke="#ee8f3f" stroke-width="2" stroke-linejoin="round"><path d="M20.700 16.900H16A2 2 0 0 0 14 18.900V27.100A2 2 0 0 0 16 29.100H31.900A2 2 0 0 0 33.900 27.100V25"/><path d="M22 30H25.900V34.500H27A0.800 0.800 0 0 1 27 36.100H21A0.800 0.800 0 0 1 21 34.500H22Z" fill="#ee8f3f" stroke="none"/><path d="M28.90 12.10L29.29 12.13L29.66 12.31L29.92 12.95L30.11 13.60L30.35 13.82L30.62 13.94L30.90 14.05L31.23 14.07L31.82 13.73L32.46 13.46L32.84 13.60L33.14 13.86L33.40 14.16L33.54 14.54L33.27 15.18L32.93 15.77L32.95 16.10L33.06 16.38L33.18 16.65L33.40 16.89L34.05 17.08L34.69 17.34L34.87 17.71L34.90 18.10L34.87 18.49L34.69 18.86L34.05 19.12L33.40 19.31L33.18 19.55L33.06 19.82L32.95 20.10L32.93 20.43L33.27 21.02L33.54 21.66L33.40 22.04L33.14 22.34L32.84 22.60L32.46 22.74L31.82 22.47L31.23 22.13L30.90 22.15L30.62 22.26L30.35 22.38L30.11 22.60L29.92 23.25L29.66 23.89L29.29 24.07L28.90 24.10L28.51 24.07L28.14 23.89L27.88 23.25L27.69 22.60L27.45 22.38L27.18 22.26L26.90 22.15L26.57 22.13L25.98 22.47L25.34 22.74L24.96 22.60L24.66 22.34L24.40 22.04L24.26 21.66L24.53 21.02L24.87 20.43L24.85 20.10L24.74 19.82L24.62 19.55L24.40 19.31L23.75 19.12L23.11 18.86L22.93 18.49L22.90 18.10L22.93 17.71L23.11 17.34L23.75 17.08L24.40 16.89L24.62 16.65L24.74 16.38L24.85 16.10L24.87 15.77L24.53 15.18L24.26 14.54L24.40 14.16L24.66 13.86L24.96 13.60L25.34 13.46L25.98 13.73L26.57 14.07L26.90 14.05L27.18 13.94L27.45 13.82L27.69 13.60L27.88 12.95L28.14 12.31L28.51 12.13Z" stroke-width="1.100" stroke="#f0a05a"/><circle cx="28.900" cy="18.100" r="1.800" stroke-width="1.100" stroke="#f0a05a"/></svg>
<div class="t " id="t_ia" style="left:766.5px;top:240.8px;font-size:28px;-webkit-text-stroke:0.35px;letter-spacing:1.7px;">i-031c4493b<span style="letter-spacing:-0.800px">...</span></div>
<div class="t " id="t_open" style="left:1039.0px;top:240.8px;font-size:28px;-webkit-text-stroke:0.6px;letter-spacing:0.9px;">Open</div>
</div>
</div><!--c6-->

<div id="fab" class="a" style="left:2896px;top:1765px;width:96px;height:96px;border-radius:48px;background:#397df4;box-shadow:0 4px 40px 2px rgba(20,24,50,0.10)">
<svg class="a" style="left:18px;top:18px" width="60" height="60" viewBox="2914 1783 60 60" fill="none"><defs><clipPath id="fc"><circle cx="2944" cy="1813" r="23.800"/></clipPath></defs>
<circle cx="2944" cy="1813" r="23.800" fill="#fff"/>
<g clip-path="url(#fc)" stroke="#397df4" stroke-width="1.900"><circle cx="2915.600" cy="1813" r="11.700"/><circle cx="2910.750" cy="1813" r="22.100"/><circle cx="2908.700" cy="1813" r="29.600"/><circle cx="2916.700" cy="1813" r="29.400"/></g>
<circle cx="2944.100" cy="1813" r="10" fill="#397df4"/></svg>
</div>
</div>
<script>(function(){var w=window.innerWidth||3024,s=w/3024;if(s<0.99){var r=document.getElementById("root");r.style.transformOrigin="0 0";r.style.transform="scale("+s+")";var d=document.documentElement,b=document.body;d.style.width=b.style.width=(3024*s)+"px";d.style.height=b.style.height=(1889*s)+"px";}})();</script>
</body>
</html>
